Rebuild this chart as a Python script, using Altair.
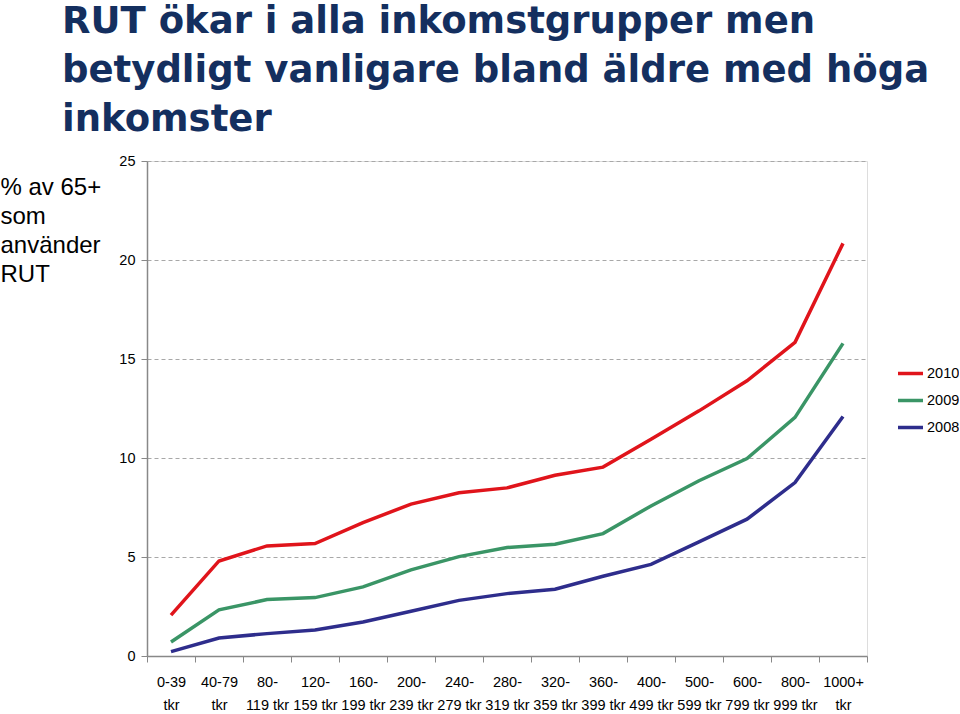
import altair as alt
import pandas as pd

categories = ["0-39|tkr", "40-79|tkr", "80-|119 tkr", "120-|159 tkr", "160-|199 tkr",
              "200-|239 tkr", "240-|279 tkr", "280-|319 tkr", "320-|359 tkr", "360-|399 tkr",
              "400-|499 tkr", "500-|599 tkr", "600-|799 tkr", "800-|999 tkr", "1000+|tkr"]
years = ["2010", "2009", "2008"]
v2010 = [2.06, 4.80, 5.56, 5.68, 6.74, 7.67, 8.24, 8.49, 9.13, 9.54, 10.95, 12.38, 13.90, 15.84, 20.84]
v2009 = [0.71, 2.33, 2.85, 2.95, 3.49, 4.35, 5.02, 5.48, 5.64, 6.18, 7.58, 8.85, 9.97, 12.05, 15.79]
v2008 = [0.22, 0.91, 1.13, 1.31, 1.72, 2.26, 2.81, 3.15, 3.37, 4.03, 4.63, 5.76, 6.91, 8.76, 12.10]
colors = ["#e0141b", "#3a9566", "#2e2d8c"]
title_lines = ["RUT ökar i alla inkomstgrupper men",
               "betydligt vanligare bland äldre med höga",
               "inkomster"]
y_title = ["% av 65+", "som", "använder", "RUT"]

rows = []
for yr, vals in zip(years, [v2010, v2009, v2008]):
    for c, v in zip(categories, vals):
        rows.append({"kat": c, "ar": yr, "val": v})
df = pd.DataFrame(rows)

NARROW = "Liberation Sans Narrow, Liberation Sans, Arial Narrow"
FS = 14.5

chart = alt.Chart(df).mark_line(strokeWidth=3.5).encode(
    x=alt.X("kat:N", sort=categories, bandPosition=0.5,
            scale=alt.Scale(type="band", paddingInner=0, paddingOuter=0),
            axis=alt.Axis(title=None, labelAngle=0, tickBand="extent",
                          labelExpr="split(datum.label, '|')",
                          labelFont=NARROW, labelFontSize=FS, labelColor="#000000",
                          labelLineHeight=23, labelPadding=13, tickSize=6,
                          tickColor="#888888", domainColor="#888888", domainWidth=1.5,
                          grid=False, labelBaseline="top")),
    y=alt.Y("val:Q", scale=alt.Scale(domain=[0, 25], nice=False),
            axis=alt.Axis(values=[0, 5, 10, 15, 20, 25], title=y_title,
                          titleAngle=0, titleAlign="left", titleBaseline="top",
                          titleX=-147, titleY=14, titleFont="Liberation Sans",
                          titleFontSize=24, titleFontWeight="normal", titleLineHeight=29,
                          titleColor="#000000",
                          labelFont=NARROW, labelFontSize=FS, labelColor="#000000",
                          labelPadding=6, tickSize=6, tickColor="#888888",
                          domainColor="#888888", domainWidth=1.5,
                          gridDash=[4, 3], gridColor="#a8a8a8", gridWidth=1)),
    color=alt.Color("ar:N", sort=years,
                    scale=alt.Scale(domain=years, range=colors),
                    legend=alt.Legend(title=None, orient="none", legendX=749, legendY=198,
                                      symbolType="stroke", symbolSize=625,
                                      symbolStrokeWidth=3.5, labelFont=NARROW,
                                      labelFontSize=FS, labelColor="#000000",
                                      labelOffset=2, rowPadding=5, padding=0)),
).properties(
    width=720, height=495,
    title=alt.TitleParams(text=title_lines, anchor="start", frame="group",
                          font="DejaVu Sans",
                          fontSize=37, fontWeight="bold", color="#142f5f",
                          lineHeight=49, dx=-85, offset=14),
    autosize=alt.AutoSizeParams(type="none"),
    padding={"left": 147, "top": 161, "right": 92, "bottom": 58},
).configure_view(stroke="#999999", strokeWidth=1.5
).configure(background="white")

chart.save("out.html", embed_options={"renderer": "svg", "actions": False})
